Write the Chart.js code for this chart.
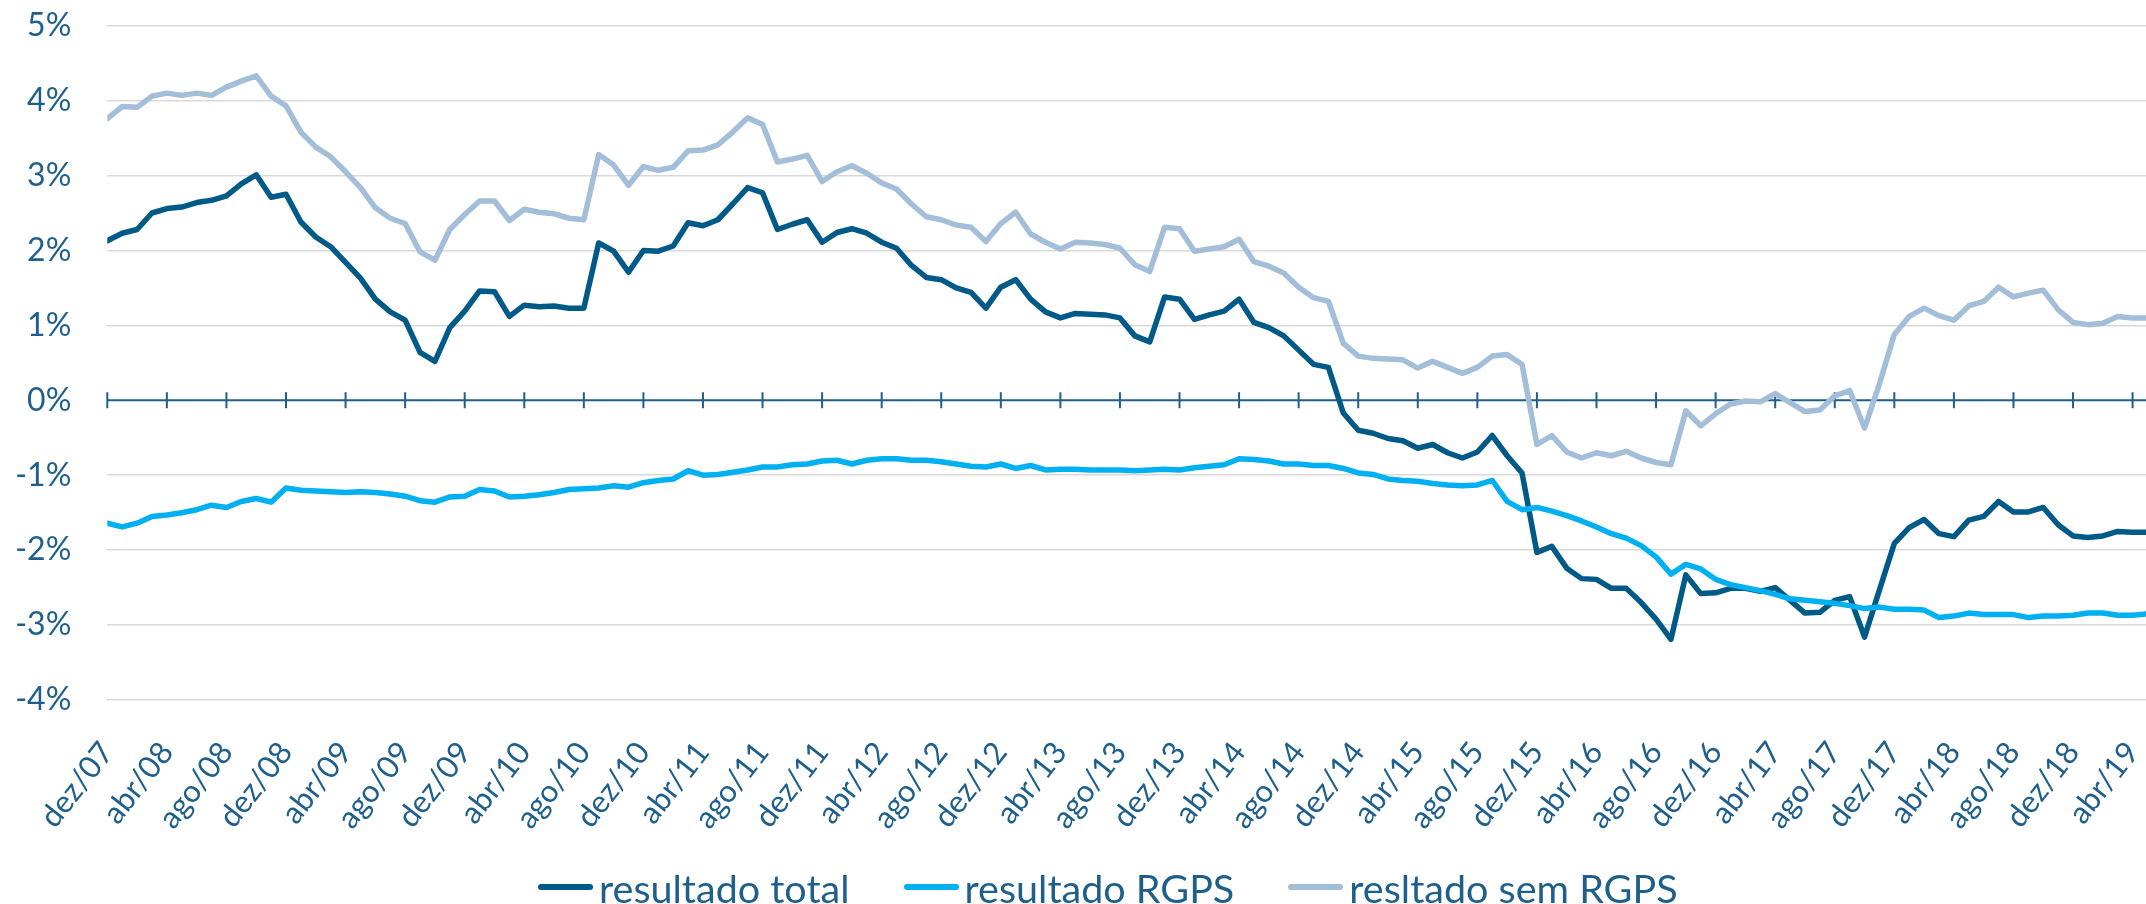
<!DOCTYPE html>
<html lang="pt-BR">
<head>
<meta charset="utf-8">
<title>Resultado total, RGPS e sem RGPS</title>
<script src="https://cdn.jsdelivr.net/npm/chart.js@4.4.1/dist/chart.umd.min.js"></script>
<style>
  html, body { margin: 0; padding: 0; background: #fff; overflow: hidden; }
  #wrap { position: relative; width: 2146px; height: 904px; }
  #legend { position: absolute; left: 538px; top: 862px; height: 50px; display: flex; align-items: center;
            font-family: Lato, sans-serif; font-size: 39.5px; color: #1F5F8B; white-space: nowrap; }
  .item { display: flex; align-items: center; margin-right: 54px; }
  .swatch { width: 55px; height: 6px; border-radius: 3px; margin-right: 6px; }
</style>
</head>
<body>
<div id="wrap">
  <canvas id="chart" width="2146" height="904"></canvas>
  <div id="legend"></div>
</div>
<script>
// tick labels, one every 4 months starting dez/07
const tickLabels = ['dez/07','abr/08','ago/08','dez/08','abr/09','ago/09','dez/09','abr/10','ago/10','dez/10',
  'abr/11','ago/11','dez/11','abr/12','ago/12','dez/12','abr/13','ago/13','dez/13','abr/14','ago/14','dez/14',
  'abr/15','ago/15','dez/15','abr/16','ago/16','dez/16','abr/17','ago/17','dez/17','abr/18','ago/18','dez/18','abr/19'];

// monthly values (% ), dez/07 .. mai/19
const resultadoTotal = [
  2.13, 2.23, 2.28, 2.50, 2.56, 2.58, 2.64, 2.67, 2.73, 2.89, 3.01, 2.71, 2.75, 2.38, 2.18, 2.05, 1.84, 1.63, 1.35, 1.18,
  1.07, 0.64, 0.52, 0.97, 1.19, 1.46, 1.45, 1.12, 1.27, 1.25, 1.26, 1.23, 1.23, 2.10, 1.99, 1.71, 2.00, 1.99, 2.06, 2.37,
  2.33, 2.41, 2.62, 2.84, 2.77, 2.28, 2.35, 2.41, 2.11, 2.24, 2.29, 2.23, 2.11, 2.03, 1.80, 1.64, 1.61, 1.50, 1.44, 1.23,
  1.51, 1.61, 1.35, 1.18, 1.10, 1.16, 1.15, 1.14, 1.10, 0.86, 0.78, 1.38, 1.35, 1.08, 1.14, 1.19, 1.35, 1.04, 0.97, 0.86,
  0.67, 0.48, 0.44, -0.17, -0.40, -0.44, -0.51, -0.54, -0.64, -0.59, -0.70, -0.77, -0.69, -0.47, -0.74, -0.97, -2.03, -1.95, -2.24, -2.38,
  -2.39, -2.51, -2.51, -2.70, -2.92, -3.19, -2.33, -2.58, -2.57, -2.51, -2.51, -2.55, -2.50, -2.67, -2.84, -2.83, -2.67, -2.62, -3.16, -2.53,
  -1.91, -1.70, -1.59, -1.78, -1.82, -1.60, -1.55, -1.35, -1.49, -1.49, -1.43, -1.66, -1.81, -1.83, -1.81, -1.75, -1.76, -1.76
];
const resultadoRGPS = [
  -1.64, -1.69, -1.64, -1.55, -1.53, -1.50, -1.46, -1.40, -1.43, -1.35, -1.31, -1.36, -1.17, -1.20, -1.21, -1.22, -1.23, -1.22, -1.23, -1.25,
  -1.28, -1.34, -1.36, -1.29, -1.28, -1.19, -1.21, -1.29, -1.28, -1.26, -1.23, -1.19, -1.18, -1.17, -1.14, -1.16, -1.10, -1.07, -1.05, -0.94,
  -1.00, -0.99, -0.96, -0.93, -0.89, -0.89, -0.86, -0.85, -0.81, -0.80, -0.85, -0.80, -0.78, -0.78, -0.80, -0.80, -0.82, -0.85, -0.88, -0.89,
  -0.85, -0.91, -0.87, -0.93, -0.92, -0.92, -0.93, -0.93, -0.93, -0.94, -0.93, -0.92, -0.93, -0.90, -0.88, -0.86, -0.78, -0.79, -0.81, -0.85,
  -0.85, -0.87, -0.87, -0.91, -0.97, -0.99, -1.05, -1.07, -1.08, -1.11, -1.13, -1.14, -1.13, -1.07, -1.35, -1.46, -1.43, -1.48, -1.54, -1.61,
  -1.69, -1.78, -1.84, -1.94, -2.09, -2.32, -2.19, -2.25, -2.39, -2.46, -2.50, -2.54, -2.59, -2.65, -2.67, -2.69, -2.71, -2.74, -2.78, -2.76,
  -2.79, -2.79, -2.80, -2.90, -2.88, -2.84, -2.86, -2.86, -2.86, -2.90, -2.88, -2.88, -2.87, -2.84, -2.84, -2.87, -2.87, -2.85
];
const resultadoSemRGPS = [
  3.76, 3.92, 3.91, 4.06, 4.10, 4.07, 4.10, 4.07, 4.18, 4.26, 4.33, 4.06, 3.93, 3.58, 3.38, 3.25, 3.05, 2.84, 2.57, 2.43,
  2.36, 1.98, 1.87, 2.28, 2.48, 2.66, 2.66, 2.40, 2.55, 2.51, 2.49, 2.43, 2.41, 3.28, 3.14, 2.87, 3.12, 3.07, 3.11, 3.33,
  3.34, 3.41, 3.58, 3.77, 3.68, 3.18, 3.22, 3.27, 2.92, 3.05, 3.13, 3.03, 2.90, 2.82, 2.62, 2.45, 2.41, 2.34, 2.31, 2.12,
  2.36, 2.51, 2.22, 2.11, 2.02, 2.11, 2.10, 2.08, 2.03, 1.81, 1.72, 2.31, 2.29, 1.99, 2.02, 2.05, 2.15, 1.85, 1.79, 1.70,
  1.51, 1.37, 1.32, 0.76, 0.59, 0.56, 0.55, 0.54, 0.43, 0.52, 0.44, 0.36, 0.44, 0.59, 0.61, 0.48, -0.59, -0.47, -0.69, -0.77,
  -0.70, -0.74, -0.68, -0.77, -0.83, -0.86, -0.14, -0.34, -0.18, -0.05, -0.01, -0.02, 0.09, -0.03, -0.15, -0.13, 0.06, 0.13, -0.37, 0.22,
  0.88, 1.12, 1.23, 1.13, 1.07, 1.26, 1.32, 1.51, 1.38, 1.43, 1.47, 1.21, 1.04, 1.01, 1.03, 1.12, 1.10, 1.10
];

const MONTHS_PER_TICK = 4;
const TEXT = '#1F5F8B';
const FONT = 'Lato, sans-serif';

const toPoints = vals => vals.map((v, i) => ({ x: i, y: v }));

function lineSet(label, vals, color, order) {
  return {
    label, data: toPoints(vals), order,
    borderColor: color, backgroundColor: color,
    borderWidth: 5.5, pointRadius: 0, tension: 0,
    borderJoinStyle: 'round', borderCapStyle: 'round'
  };
}

// 0% axis line with crossing tick marks, drawn under the series
const zeroAxis = {
  id: 'zeroAxis',
  beforeDatasetsDraw(chart) {
    const { ctx, chartArea, scales: { x, y } } = chart;
    const y0 = y.getPixelForValue(0);
    ctx.save();
    ctx.strokeStyle = TEXT;
    ctx.lineWidth = 2;
    ctx.beginPath();
    ctx.moveTo(chartArea.left, y0);
    ctx.lineTo(chartArea.right, y0);
    x.ticks.forEach(t => {
      const px = x.getPixelForValue(t.value);
      ctx.moveTo(px, y0 - 8);
      ctx.lineTo(px, y0 + 8);
    });
    ctx.stroke();
    ctx.restore();
  }
};

const chart = new Chart(document.getElementById('chart'), {
  type: 'line',
  data: {
    datasets: [
      lineSet('resultado total', resultadoTotal, '#005A87', 3),
      lineSet('resultado RGPS', resultadoRGPS, '#00B0F0', 2),
      lineSet('resltado sem RGPS', resultadoSemRGPS, '#A3BED8', 1)
    ]
  },
  options: {
    responsive: false,
    animation: false,
    layout: { padding: { top: 25.7, right: 0, bottom: 0, left: 0 } },
    plugins: { legend: { display: false }, tooltip: { enabled: false } },
    scales: {
      x: {
        type: 'linear', min: 0, max: 136.9,
        grid: { display: false }, border: { display: false },
        afterBuildTicks: s => { s.ticks = tickLabels.map((_, k) => ({ value: k * MONTHS_PER_TICK })); },
        afterFit: s => { s.height = 204; s.paddingLeft = 0; s.paddingRight = 0; },
        ticks: {
          autoSkip: false, minRotation: 52, maxRotation: 52, padding: 27,
          color: TEXT, font: { family: FONT, size: 31 },
          callback: v => tickLabels[v / MONTHS_PER_TICK]
        }
      },
      y: {
        min: -4, max: 5,
        border: { display: false },
        grid: {
          drawTicks: false, lineWidth: 1.5,
          color: c => c.tick.value === 0 ? 'rgba(0,0,0,0)' : '#D9D9D9'
        },
        afterFit: s => { s.width = 107.3; s.paddingTop = 0; s.paddingBottom = 0; },
        ticks: {
          stepSize: 1, padding: 36, color: TEXT, font: { family: FONT, size: 32 },
          callback: v => v + '%'
        }
      }
    }
  },
  plugins: [zeroAxis]
});

// legend in the original order
const legend = document.getElementById('legend');
chart.data.datasets.forEach(ds => {
  const item = document.createElement('div');
  item.className = 'item';
  item.innerHTML = `<span class="swatch" style="background:${ds.borderColor}"></span><span>${ds.label}</span>`;
  legend.appendChild(item);
});
</script>
</body>
</html>
